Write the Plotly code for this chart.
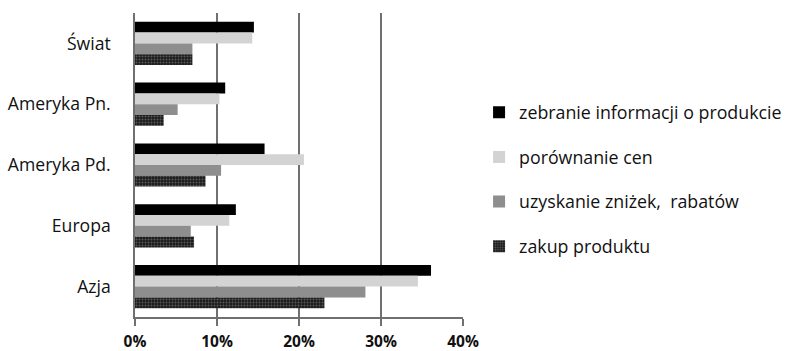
import plotly.graph_objects as go

categories = ["Świat", "Ameryka Pn.", "Ameryka Pd.", "Europa", "Azja"]
series_names = [
    "zebranie informacji o produkcie",
    "porównanie cen",
    "uzyskanie zniżek,  rabatów",
    "zakup produktu",
]
info = [14.5, 11.0, 15.8, 12.3, 36.1]
prices = [14.3, 10.3, 20.6, 11.5, 34.5]
discounts = [7.0, 5.2, 10.5, 6.8, 28.1]
purchase = [7.0, 3.5, 8.6, 7.2, 23.1]
x_ticks = [0, 10, 20, 30, 40]
x_tick_labels = ["0%", "10%", "20%", "30%", "40%"]

FONT = "Open Sans"

fig = go.Figure()
styles = [
    dict(color="#000000"),
    dict(color="#d3d3d3"),
    dict(color="#8e8e8e"),
    dict(color="#1a1a1a", pattern=dict(shape=".", fgcolor="#9a9a9a", bgcolor="#1a1a1a",
                                       size=3, solidity=0.35)),
]
for i, (name, vals) in enumerate(zip(series_names, [info, prices, discounts, purchase])):
    fig.add_trace(go.Bar(
        y=categories, x=vals, name=name, orientation="h",
        marker=dict(line=dict(width=0), **styles[i]),
        legendgroup=f"g{i}",
    ))

fig.update_layout(
    width=792, height=351,
    margin=dict(l=135, r=329, t=13, b=34, autoexpand=False),
    paper_bgcolor="white", plot_bgcolor="white",
    barmode="group", bargap=0.29, bargroupgap=0,
    font=dict(family=FONT, size=15, color="#111111"),
    legend=dict(x=1.049, xanchor="left", y=0.733, yanchor="top",
                tracegroupgap=18.5, font=dict(size=17.8, family=FONT, color="#111111"),
                itemwidth=30),
    showlegend=True,
)
fig.update_xaxes(
    range=[0, 40], tickvals=x_ticks, ticktext=x_tick_labels,
    showgrid=True, gridcolor="#707070", gridwidth=1.5,
    showline=True, linecolor="#707070", linewidth=1.5,
    ticks="outside", ticklen=7, tickcolor="#707070", tickwidth=1.5,
    ticklabelstandoff=3, automargin=False,
    tickfont=dict(size=15.5, family=FONT, weight="bold", color="#111111"),
    zeroline=False,
)
fig.update_yaxes(
    autorange="reversed", showline=True, linecolor="#707070", linewidth=1.5,
    showgrid=False, ticks="", ticklabelstandoff=19, automargin=False,
    tickfont=dict(size=17.6, family=FONT, color="#111111"),
)

fig.write_html("out.html")
